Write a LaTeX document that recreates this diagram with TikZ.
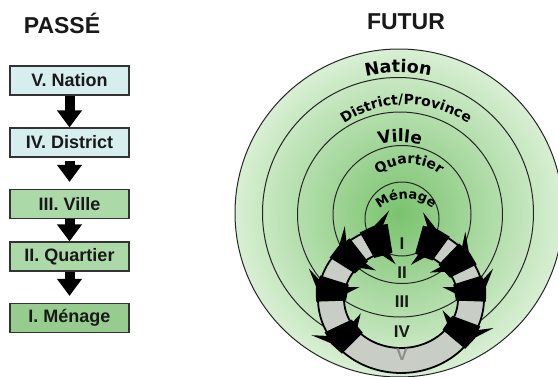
\documentclass[tikz,border=0pt]{standalone}
\usepackage{fontspec}
\setmainfont{Liberation Sans}
\newfontfamily\dvb{DejaVu Sans}
\usetikzlibrary{arrows.meta,decorations.text}
\definecolor{boxcyan}{RGB}{214,238,238}
\definecolor{boxgreen}{RGB}{172,217,168}
\definecolor{boxgreenD}{RGB}{150,205,143}
\definecolor{ringgray}{RGB}{200,206,198}
\definecolor{gin}{RGB}{122,195,110}
\definecolor{gout}{RGB}{216,239,211}
\definecolor{txt}{RGB}{25,25,25}
\pgfdeclareradialshading{greenrad}{\pgfpoint{0bp}{0bp}}{color(0bp)=(gin); color(25bp)=(gout); color(50bp)=(gout)}
\tikzset{
  title/.style={font=\fontsize{23}{25}\selectfont\bfseries, text=txt, inner sep=0pt},
  lvl/.style={draw=black!80, line width=1.2pt, minimum width=119pt, minimum height=29pt, inner sep=0pt,
    font=\fontsize{18}{20}\selectfont\bfseries, text=txt},
  bigarr/.style={line width=10pt, black, -{Triangle[width=24pt,length=17pt]}},
  cline/.style={draw=black!85, line width=1pt},
  ringfill/.style={fill=ringgray, draw=black, line width=1.8pt},
  rlab/.style={font=\fontsize{17}{19}\selectfont\bfseries, text=txt, inner sep=0pt},
  curv/.style={decorate, decoration={text along path, text align=center, text={#1}}}
}
\begin{document}
\begin{tikzpicture}[x=1pt,y=1pt]
\useasboundingbox (0,0) rectangle (558,376);
\fill[white] (0,0) rectangle (558,376);

% titles
\node[title] (passe) at (62,353) {PASSÉ};
\node[title] (futur) at (406,354) {FUTUR};

% left column
\node[lvl, fill=boxcyan] (b5) at (69.5,295.5) {V. Nation};
\node[lvl, fill=boxcyan] (b4) at (69.5,233.5) {IV. District};
\node[lvl, fill=boxgreen] (b3) at (69.5,172) {III. Ville};
\node[lvl, fill=boxgreen] (b2) at (69.5,119.5) {II. Quartier};
\node[lvl, fill=boxgreenD] (b1) at (69.5,58) {I. Ménage};
\draw[bigarr] (b5.south) -- (b4.north);
\draw[bigarr, shorten <=3pt, shorten >=7pt] (b4.south) -- (b3.north);
\draw[bigarr] (b3.south) -- (b2.north);
\draw[bigarr, shorten >=7pt] (b2.south) -- (b1.north);

% concentric circles
\shade[shading=greenrad] (399,163) circle[radius=164];
\draw[cline] (399,163) circle[radius=164];
\draw[cline] (398,163) circle[radius=135.5];
\draw[cline] (400,161.5) circle[radius=102.5];
\draw[cline] (402,161.5) circle[radius=69];
\draw[cline] (402,157) circle[radius=37];

% curved labels
\path[curv={|\dvb\bfseries\fontsize{17.5}{18}\selectfont|Nation}]
  (276.9,233.5) arc[start angle=150, end angle=30, radius=140];
\path[curv={|\dvb\bfseries\fontsize{14}{14}\selectfont|District/Province}]
  (306.4,207.9) arc[start angle=155, end angle=25, radius=110];
\path[curv={|\dvb\bfseries\fontsize{17}{17}\selectfont|Ville}]
  (337.65,198) arc[start angle=150, end angle=30, radius=72];
\path[curv={|\dvb\bfseries\fontsize{14}{14}\selectfont|Quartier}]
  (359.8,170.7) arc[start angle=170, end angle=10, radius=50];
\path[curv={|\dvb\bfseries\fontsize{13}{13}\selectfont|Ménage}]
  (365.6,143.3) arc[start angle=170, end angle=10, radius=41];

% ring of arrows
\begin{scope}[shift={(401,77)}]
\filldraw[ringfill] plot[domain=-242:74, samples=100] ({83*cos(\x)},{74*sin(\x)})
  -- plot[domain=74:-242, samples=100] ({57*cos(\x)},{49*sin(\x)}) -- cycle;
\foreach \t/\u in {65/1,37/1,8/1,-31/1,109/-1,137/-1,172/-1,216/-1}{
  \fill[black] ({\t-10}:85 and 76) -- ({\t}:86 and 77) -- ({\t+10}:85 and 76)
     -- ({\t+10}:55 and 47) -- ({\t}:54 and 46) -- ({\t-10}:55 and 47) -- cycle;
  \fill[black] ({\t-3*\u}:83 and 74) -- ({\t+6*\u}:83 and 74) -- ({\t+12*\u}:98 and 89) -- cycle;
  \fill[black] ({\t-3*\u}:57 and 49) -- ({\t+6*\u}:57 and 49) -- ({\t+12*\u}:44 and 35) -- cycle;
}
\end{scope}

% ring labels
\node[rlab] (r1) at (402,132) {I};
\node[rlab] (r2) at (402,103) {II};
\node[rlab] (r3) at (402,74) {III};
\node[rlab] (r4) at (402,44) {IV};
\node[rlab, text=black!45] (r5) at (402,21) {V};
\end{tikzpicture}
\end{document}
